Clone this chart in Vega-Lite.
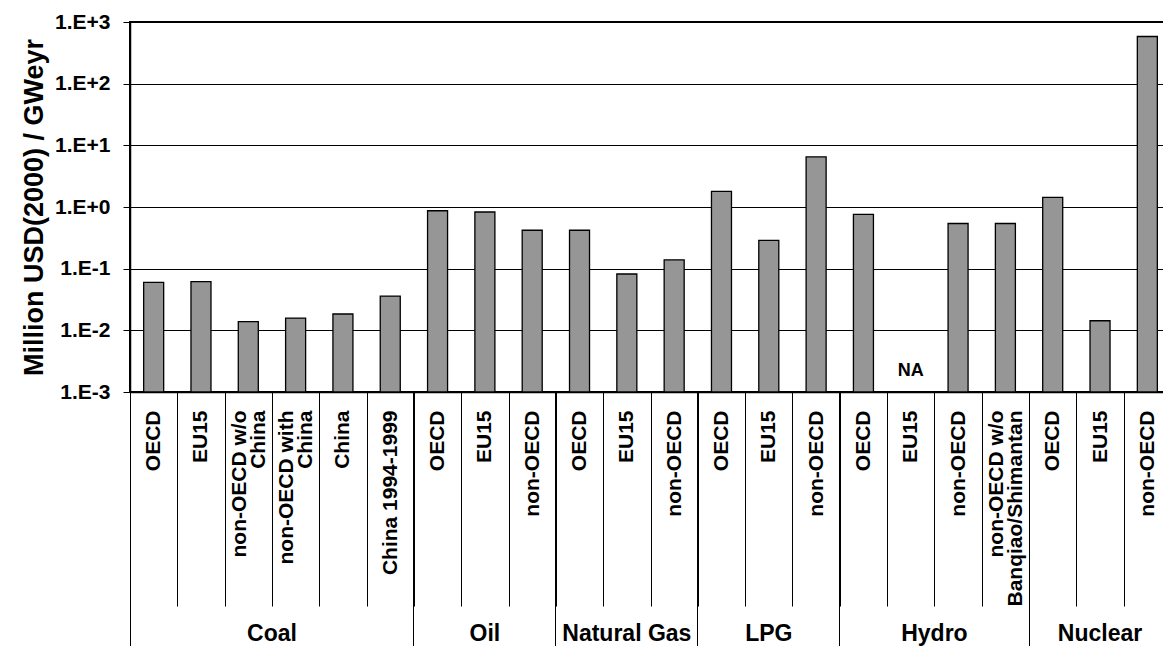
{
  "$schema": "https://vega.github.io/schema/vega-lite/v6.json",
  "width": 1041,
  "height": 370,
  "padding": {"left": 20, "top": 11, "right": 0, "bottom": 0},
  "background": "white",
  "config": {
    "view": {"stroke": "black", "strokeWidth": 2},
    "font": "Liberation Sans"
  },
  "data": {
    "values": [
      {"key": "01|OECD", "group": "Coal", "value": 0.060},
      {"key": "02|EU15", "group": "Coal", "value": 0.0615},
      {"key": "03|non-OECD w/o|China", "group": "Coal", "value": 0.0138},
      {"key": "04|non-OECD with|China", "group": "Coal", "value": 0.0158, "glabel": "start"},
      {"key": "05|China", "group": "Coal", "value": 0.0184},
      {"key": "06|China 1994-1999", "group": "Coal", "value": 0.036},
      {"key": "07|OECD", "group": "Oil", "value": 0.87},
      {"key": "08|EU15", "group": "Oil", "value": 0.83, "glabel": "middle"},
      {"key": "09|non-OECD", "group": "Oil", "value": 0.42},
      {"key": "10|OECD", "group": "Natural Gas", "value": 0.42},
      {"key": "11|EU15", "group": "Natural Gas", "value": 0.082, "glabel": "middle"},
      {"key": "12|non-OECD", "group": "Natural Gas", "value": 0.139},
      {"key": "13|OECD", "group": "LPG", "value": 1.79},
      {"key": "14|EU15", "group": "LPG", "value": 0.288, "glabel": "middle"},
      {"key": "15|non-OECD", "group": "LPG", "value": 6.5},
      {"key": "16|OECD", "group": "Hydro", "value": 0.76},
      {"key": "17|EU15", "group": "Hydro", "value": null, "note": "NA"},
      {"key": "18|non-OECD", "group": "Hydro", "value": 0.54, "glabel": "start"},
      {"key": "19|non-OECD w/o|Banqiao/Shimantan", "group": "Hydro", "value": 0.54},
      {"key": "20|OECD", "group": "Nuclear", "value": 1.43},
      {"key": "21|EU15", "group": "Nuclear", "value": 0.0143, "glabel": "middle"},
      {"key": "22|non-OECD", "group": "Nuclear", "value": 582}
    ]
  },
  "resolve": {"axis": {"x": "independent"}},
  "layer": [
    {
      "mark": {"type": "bar", "fill": "#969696", "stroke": "black", "strokeWidth": 1.3, "width": {"band": 0.423}},
      "encoding": {
        "x": {
          "field": "key",
          "type": "ordinal",
          "scale": {"paddingInner": 0, "paddingOuter": 0},
          "axis": {
            "orient": "bottom",
            "title": null,
            "tickBand": "extent",
            "labelExpr": "slice(split(datum.label, '|'), 1)",
            "labelAngle": 270,
            "labelFont": "Liberation Sans",
            "labelFontSize": 21,
            "labelFontWeight": "bold",
            "labelColor": "black",
            "labelLineHeight": 19,
            "labelPadding": -196,
            "labelOffset": {"condition": {"test": "isString(datum.value) && length(split(datum.value, '|')) > 2", "value": -9}, "value": 0},
            "labelLimit": 400,
            "labelOverlap": false,
            "labelBound": false,
            "tickSize": 214,
            "tickColor": "black",
            "tickWidth": 1,
            "domainColor": "black",
            "domainWidth": 1.5
          }
        },
        "y": {
          "field": "value",
          "type": "quantitative",
          "scale": {"type": "log", "domain": [0.001, 1000], "nice": false},
          "axis": {
            "title": "Million USD(2000) / GWeyr",
            "titleFont": "Liberation Sans",
            "titleFontSize": 27,
            "titleFontWeight": "bold",
            "titleColor": "black",
            "titlePadding": 6,
            "values": [0.001, 0.01, 0.1, 1, 10, 100, 1000],
            "labelExpr": "'1.E' + (datum.value >= 1 ? '+' : '-') + abs(round(log(datum.value) / LN10))",
            "labelFont": "Liberation Sans",
            "labelFontSize": 21,
            "labelFontWeight": "bold",
            "labelColor": "black",
            "labelPadding": 13,
            "labelFlush": false,
            "labelOverlap": false,
            "tickSize": 7,
            "tickColor": "black",
            "domainColor": "black",
            "domainWidth": 1.5,
            "grid": true,
            "gridColor": "black",
            "gridWidth": 1
          }
        },
        "y2": {"datum": 0.001}
      }
    },
    {
      "transform": [{"filter": "datum.note != null"}],
      "mark": {"type": "text", "font": "Liberation Sans", "fontWeight": "bold", "fontSize": 18, "dy": -21, "color": "black"},
      "encoding": {
        "x": {"field": "key", "type": "ordinal", "axis": null},
        "y": {"datum": 0.001, "type": "quantitative"},
        "text": {"field": "note"}
      }
    },
    {
      "transform": [{"filter": "datum.glabel == 'middle'"}],
      "mark": {"type": "text", "font": "Liberation Sans", "fontWeight": "bold", "fontSize": 23, "dy": 249, "baseline": "alphabetic", "color": "black"},
      "encoding": {
        "x": {"field": "key", "type": "ordinal", "bandPosition": 0.5, "axis": null},
        "y": {"datum": 0.001, "type": "quantitative"},
        "text": {"field": "group"}
      }
    },
    {
      "transform": [{"filter": "datum.glabel == 'start'"}],
      "mark": {"type": "text", "font": "Liberation Sans", "fontWeight": "bold", "fontSize": 23, "dy": 249, "baseline": "alphabetic", "color": "black"},
      "encoding": {
        "x": {
          "field": "key",
          "type": "ordinal",
          "bandPosition": 0,
          "axis": {
            "orient": "bottom",
            "title": null,
            "labels": false,
            "domain": false,
            "grid": false,
            "bandPosition": 0,
            "tickSize": 254,
            "tickColor": "black",
            "tickWidth": 1,
            "tickOpacity": {"condition": {"test": "isString(datum.value) && indexof(datum.value, '|OECD') > 0", "value": 1}, "value": 0}
          }
        },
        "y": {"datum": 0.001, "type": "quantitative"},
        "text": {"field": "group"}
      }
    }
  ]
}
